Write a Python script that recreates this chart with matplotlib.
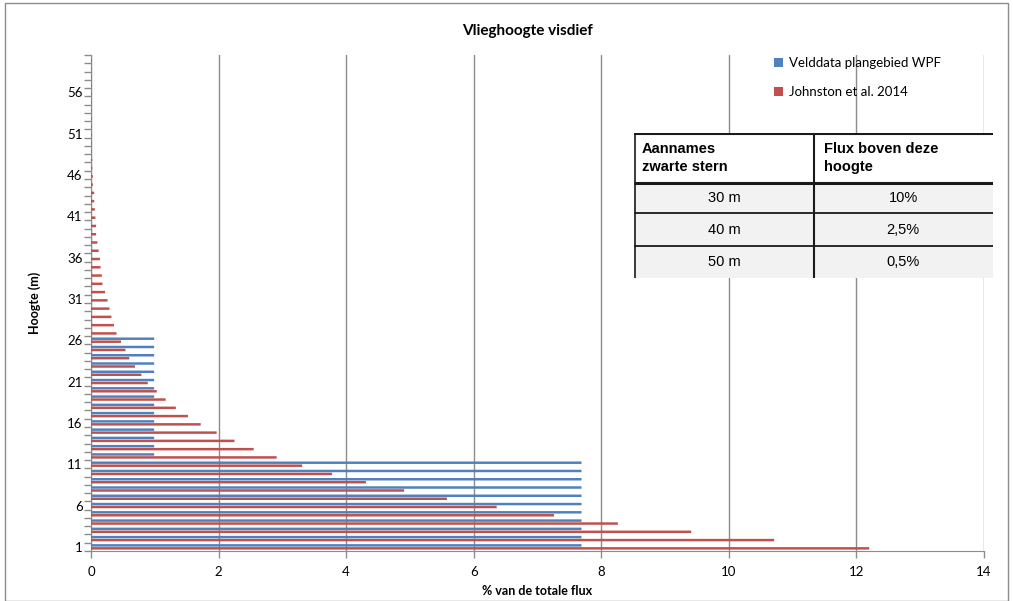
import numpy as np
import matplotlib
matplotlib.use('Agg')
import matplotlib.pyplot as plt
from matplotlib.patches import Rectangle

plt.rcParams['font.family'] = ['Lato', 'DejaVu Sans']

# hoogte klassen (m)
hoogte = np.arange(1, 61)

# Velddata plangebied WPF (% van de totale flux)
velddata = [7.69] * 11 + [0.99] * 15 + [0.0] * 34

# Johnston et al. 2014
johnston = [12.2, 10.71, 9.41, 8.26, 7.26, 6.36, 5.58, 4.91, 4.31, 3.78,
            3.31, 2.91, 2.55, 2.25, 1.97, 1.72, 1.52, 1.33, 1.17, 1.03,
            0.89, 0.79, 0.69, 0.60, 0.54, 0.47, 0.40, 0.36, 0.32, 0.29,
            0.26, 0.22, 0.18, 0.17, 0.15, 0.14, 0.12, 0.10, 0.08, 0.08,
            0.07, 0.06, 0.05, 0.05, 0.03, 0.03, 0.02, 0.02, 0.01, 0.01,
            0.01, 0.01, 0.01, 0.01, 0.01, 0.01, 0.01, 0.01, 0.01, 0.01]

ytick_labels = ['1', '6', '11', '16', '21', '26', '31', '36', '41', '46', '51', '56']
xticks = [0, 2, 4, 6, 8, 10, 12, 14]

tabel_kop = ['Aannames\nzwarte stern', 'Flux boven deze\nhoogte']
tabel_hoogte = ['30 m', '40 m', '50 m']
tabel_flux = ['10%', '2,5%', '0,5%']

W, H = 1013, 601
fig = plt.figure(figsize=(W / 100, H / 100), dpi=100)

# rand om de grafiek
fig.patches.append(Rectangle((5 / W, 0), 1003 / W, 1 - 3 / H, transform=fig.transFigure,
                             fill=False, edgecolor='#8c8c8c', linewidth=1))

ax = fig.add_axes([91 / W, 1 - 551 / H, 893 / W, 496 / H])
blauw = '#4f81bd'
rood = '#c0504d'
ax.barh(hoogte + 0.18, velddata, height=0.3, color=blauw, label='Velddata plangebied WPF',
        zorder=3, snap=False)
ax.barh(hoogte - 0.18, johnston, height=0.3, color=rood, label='Johnston et al. 2014',
        zorder=3, snap=False)

ax.set_xlim(0, 14)
ax.set_ylim(0.5, 60.5)
ax.set_xticks(xticks)
ax.set_xticklabels([str(x) for x in xticks], fontsize=9.5)
ax.set_yticks([int(t) for t in ytick_labels])
ax.set_yticklabels(ytick_labels, fontsize=9.5)
ax.set_yticks(np.arange(0.5, 61, 1), minor=True)
ax.tick_params(axis='y', which='major', length=0, pad=6)
ax.tick_params(axis='y', which='minor', length=5, color='#8c8c8c', width=1)
ax.tick_params(axis='x', length=5, color='#8c8c8c', width=1, pad=6)

ax.grid(axis='x', color='#8c8c8c', linewidth=1, zorder=0)
for s in ['top', 'right']:
    ax.spines[s].set_visible(False)
for s in ['left', 'bottom']:
    ax.spines[s].set_color('#8c8c8c')

ax.set_xlabel('% van de totale flux', fontsize=9, fontweight='bold', labelpad=5)
ax.set_ylabel('Hoogte (m)', fontsize=9, fontweight='bold', labelpad=19)
fig.text(527 / W, 1 - 31 / H, 'Vlieghoogte visdief', ha='center', va='center',
         fontsize=11, fontweight='bold')

fig.legend(loc='upper left', bbox_to_anchor=(774 / W, 1 - 57 / H), frameon=False,
           fontsize=9.5, handlelength=0.7, handleheight=0.7, handletextpad=0.4,
           labelspacing=1.3, borderpad=0, borderaxespad=0)

# tabel met aannames
tab = fig.add_axes([634 / W, 1 - 278 / H, 359 / W, 145 / H])
tab.set_xlim(0, 359)
tab.set_ylim(145, 0)
tab.axis('off')
tab.add_patch(Rectangle((0, 0), 359, 50, facecolor='white', edgecolor='none'))
tab.add_patch(Rectangle((0, 50), 359, 95, facecolor='#f2f2f2', edgecolor='none'))
lijn = dict(color='#1a1a1a', solid_capstyle='butt')
tab.plot([0, 359], [0.5, 0.5], lw=1.5, **lijn)
tab.plot([0, 359], [50, 50], lw=2.2, **lijn)
tab.plot([0, 359], [80, 80], lw=1.3, **lijn)
tab.plot([0, 359], [113, 113], lw=1.3, **lijn)
tab.plot([0.5, 0.5], [0, 145], lw=1.2, **lijn)
tab.plot([180, 180], [0, 145], lw=1.5, **lijn)
arial = ['Liberation Sans', 'DejaVu Sans']
tab.text(8, 25, tabel_kop[0], ha='left', va='center', fontsize=10.5, fontweight='bold',
         family=arial, linespacing=1.3)
tab.text(190, 25, tabel_kop[1], ha='left', va='center', fontsize=10.5, fontweight='bold',
         family=arial, linespacing=1.3)
rij_mid = [65, 96.5, 129]
for i in range(3):
    tab.text(90, rij_mid[i], tabel_hoogte[i], ha='center', va='center', fontsize=10.5, family=arial)
    tab.text(269, rij_mid[i], tabel_flux[i], ha='center', va='center', fontsize=10.5, family=arial)

fig.savefig('out.png', dpi=100)
